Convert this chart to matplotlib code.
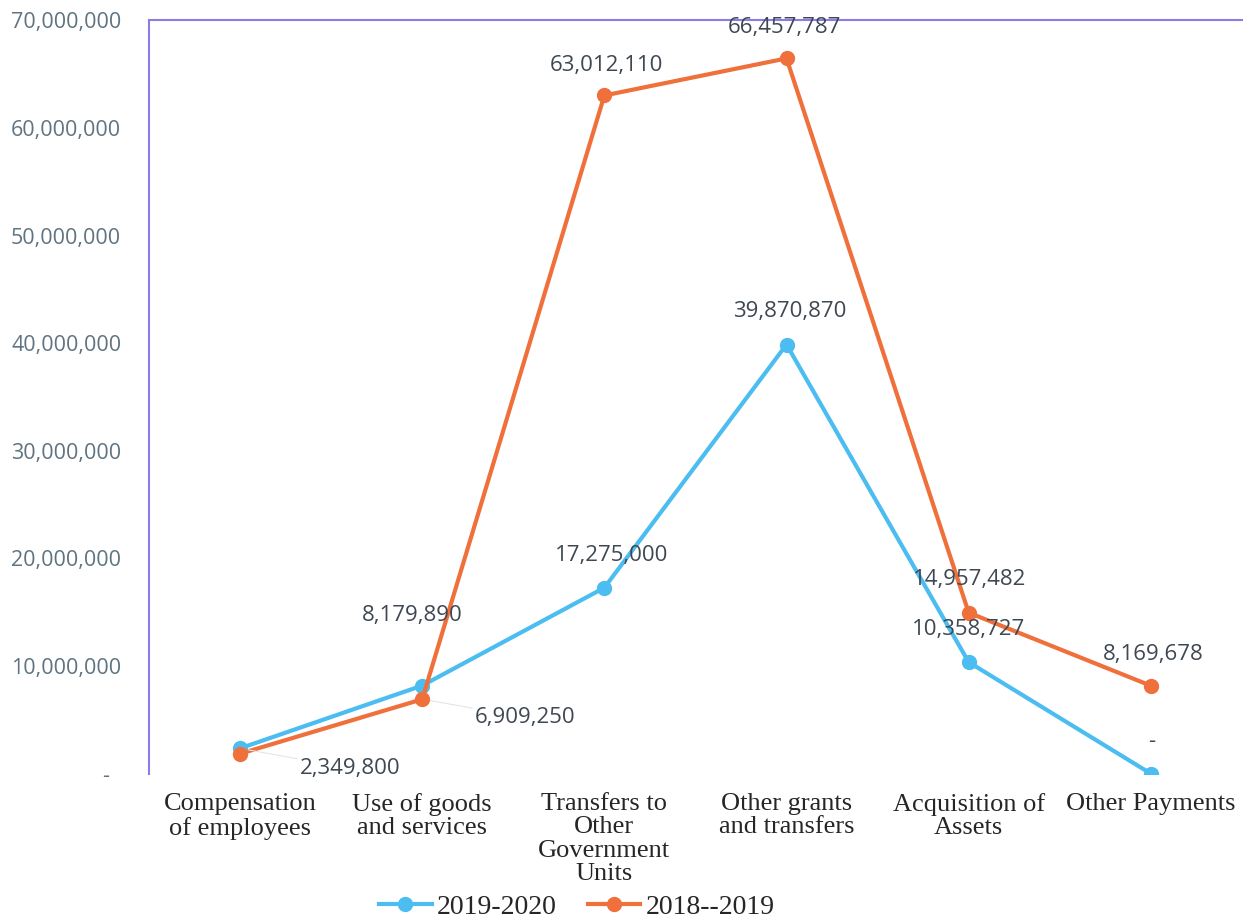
import numpy as np
import matplotlib.pyplot as plt
from matplotlib.ticker import FuncFormatter

# data
categories = ['Compensation\nof employees', 'Use of goods\nand services',
              'Transfers to\nOther\nGovernment\nUnits', 'Other grants\nand transfers',
              'Acquisition of\nAssets', 'Other Payments']
fy_2019_2020 = [2349800, 8179890, 17275000, 39870870, 10358727, 0]
fy_2018_2019 = [1850000, 6909250, 63012110, 66457787, 14957482, 8169678]
labels_2019_2020 = ['2,349,800', '8,179,890', '17,275,000', '39,870,870', '10,358,727', '-']
labels_2018_2019 = ['', '6,909,250', '63,012,110', '66,457,787', '14,957,482', '8,169,678']

blue = '#4cbdf0'
orange = '#f0703c'
spine_col = '#8c7ce8'
txt_col = '#3f4852'

fig = plt.figure(figsize=(12.57, 9.21), dpi=100)
ax = fig.add_axes([0.1185, 0.160, 0.8695, 0.818])
x = np.arange(len(categories))

ax.plot(x, fy_2019_2020, color=blue, lw=3, marker='o', markersize=10, label='2019-2020', zorder=3)
ax.plot(x, fy_2018_2019, color=orange, lw=3, marker='o', markersize=10, label='2018--2019', zorder=3)

ax.set_xlim(-0.5, 5.5)
ax.set_ylim(0, 70000000)
ax.set_yticks(np.arange(0, 70000001, 10000000))
ax.yaxis.set_major_formatter(FuncFormatter(lambda v, p: '-  ' if v == 0 else f'{int(v):,}'))
ax.set_xticks(x)
ax.set_xticklabels(categories, family='Liberation Serif', fontsize=19, color='#262626',
                   linespacing=1.08, va='top')
ax.tick_params(axis='y', length=0, pad=20, labelsize=15.5, labelcolor='#5f7480')
ax.tick_params(axis='x', length=0, pad=14)
for lab in ax.get_yticklabels():
    lab.set_family('Open Sans')

for s in ['right', 'bottom']:
    ax.spines[s].set_visible(False)
for s in ['left', 'top']:
    ax.spines[s].set_color(spine_col)
    ax.spines[s].set_linewidth(1.5)

# data labels, offsets in pixels
off_blue = [(110, -20), (-10, 70), (7, 32), (3, 33), (0, 33), (1, 32)]
off_orange = [(0, 0), (103, -18), (2, 30), (-2, 31), (1, 33), (2, 31)]
leader = dict(arrowstyle='-', color='#dfe6ec', lw=0.8, shrinkA=0, shrinkB=6)
for i in range(len(x)):
    lb = dict(arrowprops=leader) if i == 0 else {}
    ax.annotate(labels_2019_2020[i], (x[i], fy_2019_2020[i]), xytext=off_blue[i],
                textcoords='offset pixels', ha='center', va='center', fontsize=16,
                family='Open Sans', color=txt_col, **lb)
    if labels_2018_2019[i]:
        lo = dict(arrowprops=leader) if i == 1 else {}
        ax.annotate(labels_2018_2019[i], (x[i], fy_2018_2019[i]), xytext=off_orange[i],
                    textcoords='offset pixels', ha='center', va='center', fontsize=16,
                    family='Open Sans', color=txt_col, **lo)

fig.legend(loc='center', bbox_to_anchor=(0.459, 0.015), ncol=2, frameon=False,
           prop={'family': 'Liberation Serif', 'size': 20}, handlelength=1.9,
           columnspacing=1.1, handletextpad=0.2, labelcolor='#262626',
           borderpad=0, borderaxespad=0)

fig.savefig('out.png', dpi=100)
